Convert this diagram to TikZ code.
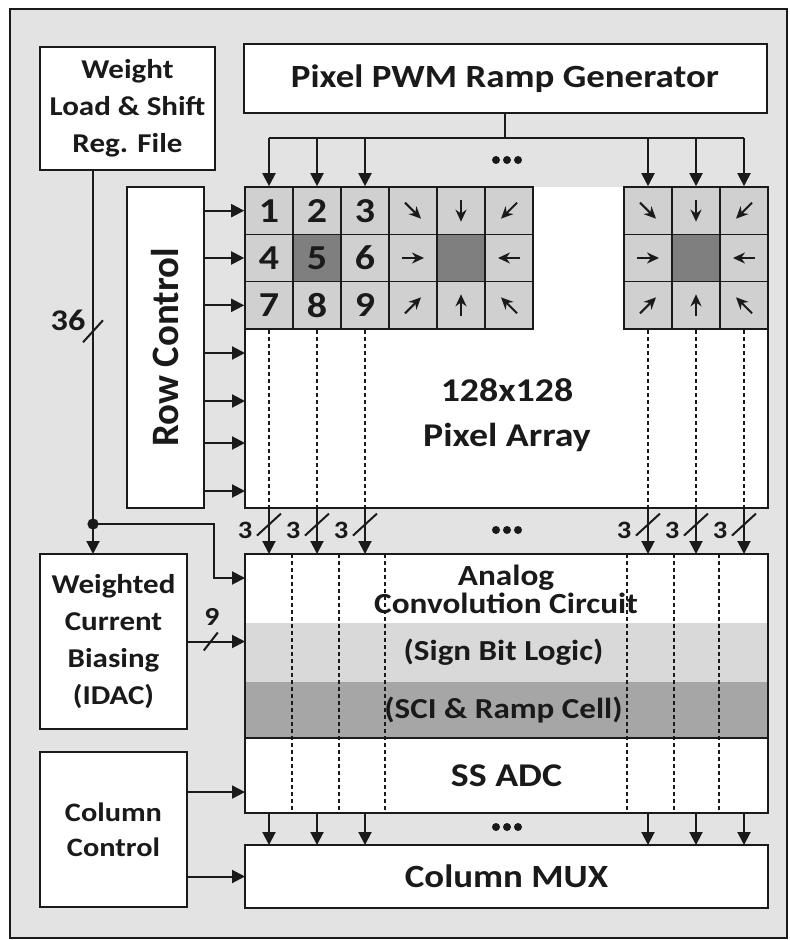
\documentclass[tikz,border=0pt]{standalone}
\usepackage{fontspec}
\setmainfont{Carlito}[FakeStretch=1.14]
\newfontfamily\plainfont{Carlito}
\usetikzlibrary{arrows.meta}

\definecolor{bggray}{HTML}{E3E3E3}
\definecolor{cellgray}{HTML}{D0D0D0}
\definecolor{hubgray}{HTML}{7F7F7F}
\definecolor{signgray}{HTML}{D9D9D9}
\definecolor{scigray}{HTML}{A6A6A6}
\definecolor{ink}{HTML}{1A1A1A}

\begin{document}
\begin{tikzpicture}
    [x=0.5pt, y=-0.5pt,
    line width=1pt,
    color=ink,
    sheet/.style={
        draw,
        fill=bggray,
        inner sep=0pt,
        outer sep=0pt
    },
    block/.style={
        draw,
        fill=white,
        inner sep=0pt,
        outer sep=0pt,
        align=center,
        font=\bfseries\fontsize{13.6}{18.5}\selectfont
    },
    band/.style={
        inner sep=0pt,
        outer sep=0pt,
        minimum width=261.5pt,
        font=\bfseries\fontsize{14.5}{14.5}\selectfont
    },
    line/.style={
        draw, -{Triangle[length=6.5pt,width=6.5pt]}
    },
    dotline/.style={
        draw, line width=0.9pt, dash pattern=on 2pt off 1.5pt
    },
    cell/.style={draw, fill=cellgray, line width=0.8pt, minimum width=24pt,
        minimum height=23.67pt, inner sep=0pt, font=\bfseries\fontsize{17.5}{17.5}\selectfont},
    hub/.style={cell, fill=hubgray},
    cellarrow/.style={line width=1pt, -{Stealth[length=6pt,width=5.5pt]}},
    buslabel/.style={inner sep=0pt, font=\bfseries\fontsize{12.5}{12.5}\selectfont}
    ]
    \useasboundingbox (0,0) rectangle (789,940);
    \node[sheet, minimum width=388.5pt, minimum height=464.5pt] (frame) at (398.5,473.5) {};

    % Top blocks
    \node[block, minimum width=87.5pt, minimum height=61.5pt] (wreg) at (127.5,108.5) {Weight\\Load \& Shift\\Reg. File};
    \node[block, minimum width=261.5pt, minimum height=34.5pt, font=\bfseries\fontsize{16.2}{18}\selectfont] (ramp) at (505,78.5) {Pixel PWM Ramp Generator};

    % Pixel array
    \node[fill=white, minimum width=261.5pt, minimum height=160.5pt, inner sep=0pt, outer sep=0pt] (array) at (506.5,347.5) {};
    \draw (array.north west) -- (array.south west) -- (array.south east) -- (array.north east);
    \node[align=center, font=\bfseries\fontsize{16.6}{22.5}\selectfont] (arraytxt) at (507,415) {128x128\\Pixel Array};

    % 3x3 Kernel
    \foreach \n/\st in {1/cell,2/cell,3/cell,4/cell,5/hub,6/cell,7/cell,8/cell,9/cell}{
        \pgfmathtruncatemacro\col{mod(\n-1,3)}
        \pgfmathtruncatemacro\row{div(\n-1,3)}
        \node[\st] (c\n) at (269+48*\col, 210.67+47.33*\row) {\n};
        \node[\st] (a\n) at (413+48*\col, 210.67+47.33*\row) {};
        \node[\st] (b\n) at (648+48*\col, 210.67+47.33*\row) {};
    }
    \foreach \g in {a,b}
        \foreach \k/\sx/\sy in {1/8/8, 2/0/11, 3/-8/8, 4/11/0, 6/-11/0, 7/8/-8, 8/0/-11, 9/-8/-8}
            \draw[cellarrow] (\g\k) ++({-(\sx)},{-(\sy)}) -- ++({2*(\sx)},{2*(\sy)});

    % Ramp bus
    \coordinate (bus) at (ramp.south |- 0,138);
    \draw (ramp.south) -- (bus);
    \draw (c1.north |- bus) -- (b3.north |- bus);
    \foreach \n in {c1,c2,c3,b1,b2,b3}
        \draw[line] (\n.north |- bus) -- (\n.north);

    % Row control
    \node[block, minimum width=38.5pt, minimum height=160.5pt] (rowctl) at (165.5,347.5) {};
    \node[rotate=90, font=\plainfont\bfseries\fontsize{19.4}{19.4}\selectfont] (rowtxt) at (rowctl) {Row Control};
    \foreach \n in {c1,c4,c7}
        \draw[line] (rowctl.east |- \n) -- (\n.west);
    \foreach \y in {353,401,443,491}
        \draw[line] (rowctl.east |- 0,\y) -- (array.west |- 0,\y);

    % Analog convolution + SS ADC
    \node[fill=white, minimum width=261.5pt, minimum height=129.5pt, inner sep=0pt, outer sep=0pt] (analog) at (506.5,683.5) {};
    \node[band, fill=signgray, minimum height=29.5pt] (sign) at (506.5,652.5) {\hspace*{-3pt}(Sign Bit Logic)};
    \node[band, fill=scigray, minimum height=28pt] (sci) at (506.5,710) {\hspace*{-3pt}(SCI \& Ramp Cell)};
    \node[band, minimum height=37.5pt, font=\bfseries\fontsize{16.6}{16.6}\selectfont] (adc) at (506.5,775.5) {SS ADC};
    \node[align=center, font=\bfseries\fontsize{14.6}{14}\selectfont] (conv) at (506,589) {Analog\\Convolution Circuit};
    \foreach \x in {292,339,385,627,674,719}
        \draw[dotline] (\x,0 |- analog.north) -- (\x,0 |- analog.south);
    \draw (sci.south west) -- (sci.south east);
    \draw (analog.north west) rectangle (analog.south east);

    % Column lines with 3-bit buses
    \foreach \n in {c7,c8,c9,b7,b8,b9}{
        \draw[dotline] (\n.south) -- (\n.south |- array.south);
        \draw[line] (\n.south |- array.south) -- coordinate[pos=0.36] (s\n) (\n.south |- analog.north);
        \draw (s\n) ++(-12,11) -- ++(24,-22);
        \node[buslabel] (l\n) at ([shift={(-24,6)}]s\n) {3};
    }

    % Dots
    \foreach \d/\y in {top/160, mid/530, bot/827}{
        \coordinate (dots\d) at (507,\y);
        \foreach \o in {-11,0,11}
            \fill (dots\d) ++(\o,0) circle[radius=2pt];
    }

    % Weight bus to IDAC and convolution
    \node[block, minimum width=73.5pt, minimum height=87.5pt] (idac) at (113.5,641.5) {Weighted\\Current\\Biasing\\(IDAC)};
    \coordinate (wtap) at (93,0 |- wreg.south);
    \coordinate (jn) at (wtap |- 0,524);
    \draw[line] (wtap) -- coordinate[pos=0.42] (s36) (wtap |- idac.north);
    \draw (s36) ++(-10,11) -- ++(20,-22);
    \node[inner sep=0pt, font=\bfseries\fontsize{15}{15}\selectfont] (l36) at ([shift={(-25,-11)}]s36) {36};
    \fill (jn) circle[radius=2.8pt];
    \draw[line] (jn) -- ++(121,0) |- (analog.west |- 0,578);
    \draw[line] (idac.east) -- coordinate[pos=0.41] (s9) (analog.west |- idac.east);
    \draw (s9) ++(-7,9) -- ++(14,-18);
    \node[buslabel, font=\bfseries\fontsize{13}{13}\selectfont] (l9) at ([shift={(1,-25)}]s9) {9};

    % Column MUX and control
    \node[block, minimum width=261.5pt, minimum height=31.5pt, font=\bfseries\fontsize{16.2}{16.2}\selectfont] (mux) at (506.5,876.5) {Column MUX};
    \node[block, minimum width=73.5pt, minimum height=77.5pt, font=\bfseries\fontsize{13.3}{17.5}\selectfont] (colctl) at (113.5,829.5) {Column\\Control};
    \draw[line] (colctl.27) -- (analog.west |- colctl.27);
    \draw[line] (colctl.east |- mux) -- (mux.west);
    \foreach \n in {c7,c8,c9,b7,b8,b9}
        \draw[line] (\n.south |- analog.south) -- (\n.south |- mux.north);
\end{tikzpicture}
\end{document}
